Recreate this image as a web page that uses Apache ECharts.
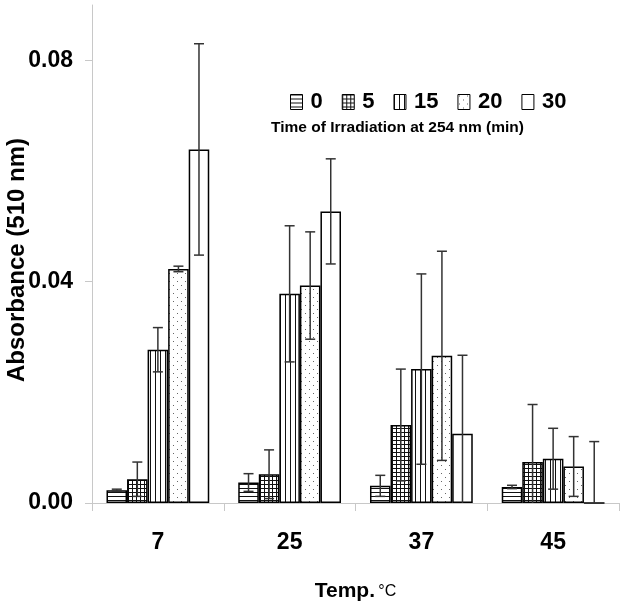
<!DOCTYPE html>
<html>
<head>
<meta charset="utf-8">
<script src="https://cdn.jsdelivr.net/npm/echarts@6/dist/echarts.min.js"></script>
<style>html,body{margin:0;padding:0;background:#fff}#c{width:626px;height:612px}</style>
</head>
<body>
<div id="c"></div>
<script>
const categories = ['7', '25', '37', '45'];
const seriesNames = ['0', '5', '15', '20', '30'];
const v0  = [0.0023, 0.0037, 0.0031, 0.0029];
const v5  = [0.0043, 0.0052, 0.0141, 0.0074];
const v15 = [0.0277, 0.0378, 0.0242, 0.0080];
const v20 = [0.0423, 0.0393, 0.0266, 0.0066];
const v30 = [0.0639, 0.0527, 0.0125, 0.0];
const e0  = [0.0002, 0.0016, 0.0019, 0.0003];
const e5  = [0.0031, 0.0044, 0.0101, 0.0104];
const e15 = [0.0040, 0.0123, 0.0172, 0.0055];
const e20 = [0.0005, 0.0097, 0.0189, 0.0054];
const e30 = [0.0191, 0.0095, 0.0142, 0.0111];
const yTicks = [0, 0.04, 0.08];

const values = [v0, v5, v15, v20, v30];
const errors = [e0, e5, e15, e20, e30];

const SANS = "'Liberation Sans', Arial, sans-serif";
const GAP = 0.22;

function pat(w, h, draw) {
  const c = document.createElement('canvas');
  c.width = w; c.height = h;
  const g = c.getContext('2d');
  g.fillStyle = '#fff'; g.fillRect(0, 0, w, h);
  draw(g);
  return { image: c, repeat: 'repeat' };
}
const fills = [
  pat(4, 4, g => { g.fillStyle = '#111'; g.fillRect(0, 0, 4, 1); }),
  pat(4, 4, g => { g.fillStyle = '#111'; g.fillRect(0, 0, 4, 1); g.fillRect(0, 0, 1, 4); }),
  pat(5, 5, g => { g.fillStyle = '#111'; g.fillRect(0, 0, 1, 5); }),
  pat(8, 8, g => { g.fillStyle = '#666'; g.fillRect(1, 1, 1, 1); g.fillRect(5, 5, 1, 1); }),
  '#ffffff'
];

const series = [];
seriesNames.forEach((name, i) => {
  series.push({
    name: name,
    type: 'bar',
    data: values[i],
    barGap: 0,
    barCategoryGap: (GAP * 100) + '%',
    itemStyle: { color: fills[i], borderColor: '#000', borderWidth: 1.5 },
    emphasis: { disabled: true },
    z: 2
  });
});
seriesNames.forEach((name, i) => {
  series.push({
    type: 'custom',
    z: 5,
    silent: true,
    data: categories.map((c, k) => [k, values[i][k], errors[i][k]]),
    renderItem: function (params, api) {
      const cat = api.value(0), val = api.value(1), err = api.value(2);
      const band = api.size([1, 0])[0];
      const bw = band * (1 - GAP) / 5;
      const cx = api.coord([cat, 0])[0] - band * (1 - GAP) / 2 + (i + 0.5) * bw;
      const lowV = Math.max(0, val - err);
      const yHi = api.coord([cat, val + err])[1];
      const yLo = api.coord([cat, lowV])[1];
      const cap = 5;
      const st = { stroke: '#333', lineWidth: 1.5 };
      const children = [
        { type: 'line', shape: { x1: cx, y1: yHi, x2: cx, y2: yLo }, style: st },
        { type: 'line', shape: { x1: cx - cap, y1: yHi, x2: cx + cap, y2: yHi }, style: st }
      ];
      if (val - err >= 0) {
        children.push({ type: 'line', shape: { x1: cx - cap, y1: yLo, x2: cx + cap, y2: yLo }, style: st });
      }
      return { type: 'group', children: children };
    }
  });
});

const chart = echarts.init(document.getElementById('c'), null, { renderer: 'canvas' });
chart.setOption({
  animation: false,
  backgroundColor: '#fff',
  grid: { left: 92, right: 7, top: 5, bottom: 109, containLabel: false, outerBoundsMode: 'none' },
  title: {
    text: 'Time of Irradiation at 254 nm (min)',
    left: 271, top: 120, padding: 0,
    textStyle: { fontFamily: SANS, fontWeight: 'bold', fontSize: 15.5, color: '#000' }
  },
  legend: {
    data: seriesNames,
    left: 290, top: 91, padding: 0,
    itemWidth: 12, itemHeight: 15, itemGap: 19,
    selectedMode: false,
    icon: 'rect',
    textStyle: { fontFamily: SANS, fontWeight: 'bold', fontSize: 22, color: '#000', padding: [0, 0, 0, 3] },
    itemStyle: { borderColor: '#000', borderWidth: 1 }
  },
  xAxis: {
    type: 'category',
    data: categories,
    name: '{a|Temp.} {b|°C}',
    nameLocation: 'middle',
    nameGap: 78,
    nameMoveOverlap: false,
    nameTextStyle: {
      rich: {
        a: { fontFamily: SANS, fontWeight: 'bold', fontSize: 21, color: '#000' },
        b: { fontFamily: SANS, fontSize: 16, color: '#000' }
      }
    },
    axisLine: { lineStyle: { color: '#c8c8c8', width: 1 } },
    axisTick: { show: true, alignWithLabel: false, length: 8, lineStyle: { color: '#c8c8c8' } },
    axisLabel: { margin: 28, fontFamily: SANS, fontWeight: 'bold', fontSize: 23, color: '#000' },
    splitLine: { show: false }
  },
  yAxis: {
    type: 'value',
    min: 0, max: 0.09,
    name: 'Absorbance (510 nm)',
    nameLocation: 'middle',
    nameGap: 63,
    nameMoveOverlap: false,
    nameTextStyle: { fontFamily: SANS, fontWeight: 'bold', fontSize: 24, color: '#000', padding: [0, 12, 0, 0] },
    axisLine: { show: true, lineStyle: { color: '#c8c8c8', width: 1 } },
    axisTick: { show: true, length: 7, customValues: yTicks, lineStyle: { color: '#c8c8c8' } },
    axisLabel: {
      margin: 19, customValues: yTicks,
      fontFamily: SANS, fontWeight: 'bold', fontSize: 23, color: '#000',
      formatter: v => v.toFixed(2)
    },
    splitLine: { show: false }
  },
  series: series
});
</script>
</body>
</html>
